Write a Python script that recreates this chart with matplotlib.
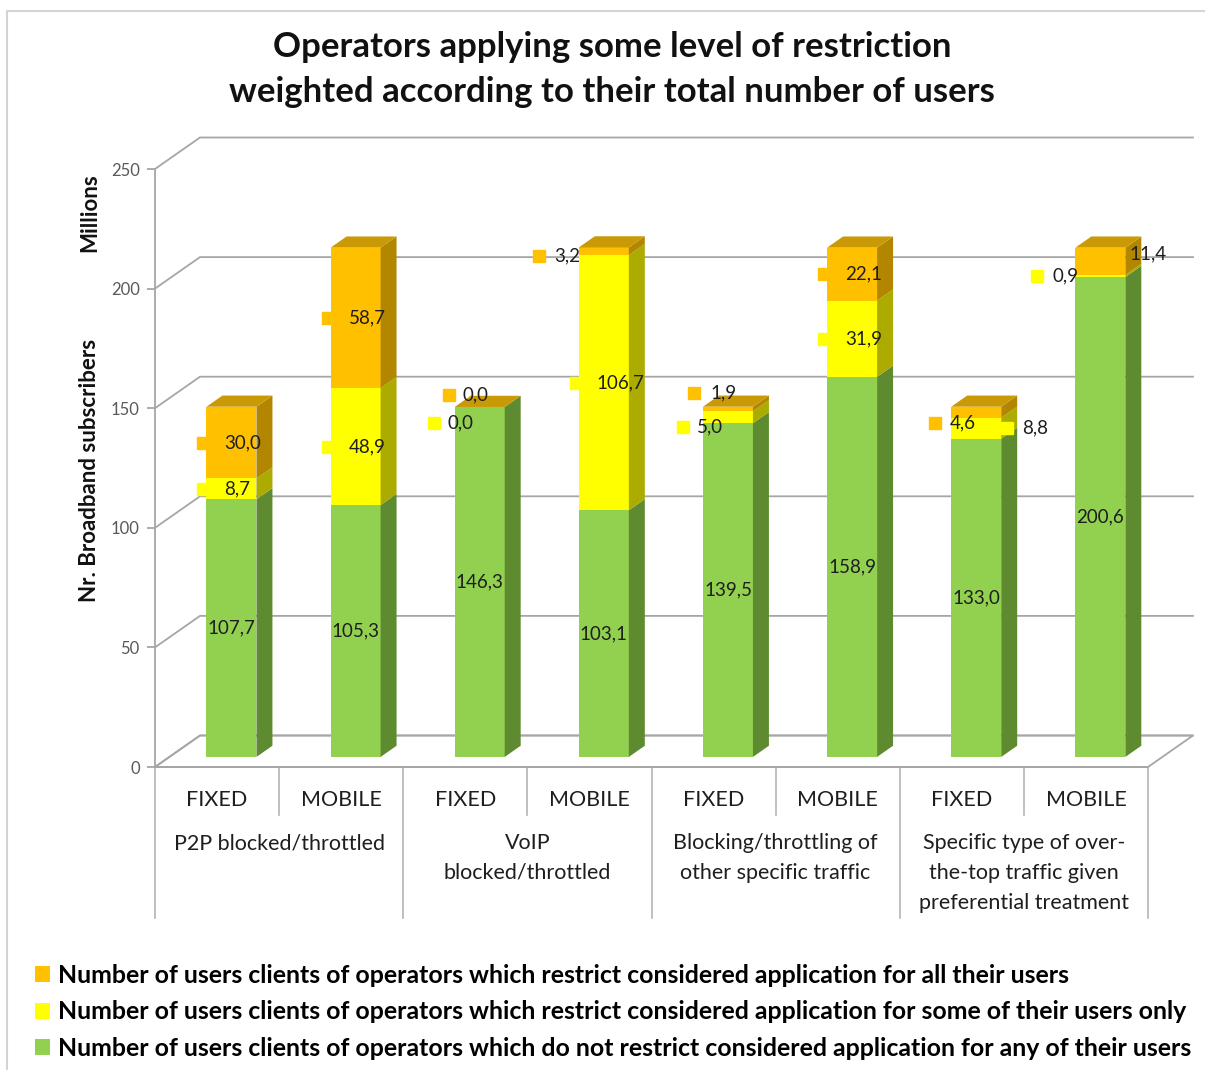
import numpy as np
import matplotlib
matplotlib.use("Agg")
import matplotlib.pyplot as plt
import matplotlib.transforms as mtransforms
from matplotlib.patches import Polygon, Rectangle, Patch

plt.rcParams["font.family"] = ["Lato", "DejaVu Sans"]

# ---- data (millions of broadband subscribers) ----
categories = ["FIXED", "MOBILE", "FIXED", "MOBILE", "FIXED", "MOBILE", "FIXED", "MOBILE"]
groups = [
    "P2P blocked/throttled",
    "VoIP\nblocked/throttled",
    "Blocking/throttling of\nother specific traffic",
    "Specific type of over-\nthe-top traffic given\npreferential treatment",
]
no_restriction = [107.7, 105.3, 146.3, 103.1, 139.5, 158.9, 133.0, 200.6]
some_users = [8.7, 48.9, 0.0, 106.7, 5.0, 31.9, 8.8, 0.9]
all_users = [30.0, 58.7, 0.0, 3.2, 1.9, 22.1, 4.6, 11.4]
series_names = [
    "Number of users clients of operators which do not restrict considered application for any of their users",
    "Number of users clients of operators which restrict considered application for some of their users only",
    "Number of users clients of operators which restrict considered application for all their users",
]
y_ticks = [0, 50, 100, 150, 200, 250]

# ---- styling ----
front_colors = ["#92D050", "#FFFF00", "#FFC000"]
side_colors = ["#5E8B30", "#ABAB00", "#B38600"]
top_color = "#C99A06"
grid_color = "#A6A6A6"
label_color = "#1E1E1E"

W, H = 1205, 1070
fig = plt.figure(figsize=(W / 100, H / 100), dpi=100)
fig.patch.set_facecolor("white")

# front plane of the 3-D box, in figure pixels
fx0, fx1, fy0, fy1 = 155, 1148, 767, 169
ax = fig.add_axes([fx0 / W, 1 - fy0 / H, (fx1 - fx0) / W, (fy0 - fy1) / H])
n = len(categories)
ymax = y_ticks[-1]
ax.set_xlim(0, n)
ax.set_ylim(0, ymax)
ax.patch.set_visible(False)

px_x = (fx1 - fx0) / n
px_y = (fy0 - fy1) / ymax
depth_x = 45 / px_x          # wall depth in data units
depth_y = 31.5 / px_y
front = 0.32                 # where the bar front face sits in the depth
thick = 0.355                # bar depth as a fraction of the wall depth
bar_w = 50 / px_x
dbx, dby = thick * depth_x, thick * depth_y

# floor
ax.add_patch(Polygon([(0, 0), (n, 0), (n + depth_x, depth_y), (depth_x, depth_y)],
                     closed=True, facecolor="white", edgecolor=grid_color,
                     linewidth=1.3, clip_on=False, zorder=0))
# back wall gridlines with the left wall diagonals
for v in y_ticks:
    ax.plot([0, depth_x, n + depth_x], [v, v + depth_y, v + depth_y],
            color=grid_color, linewidth=1.3, clip_on=False, zorder=1)

# axes frame
for s in ["top", "right"]:
    ax.spines[s].set_visible(False)
for s in ["left", "bottom"]:
    ax.spines[s].set_color(grid_color)
    ax.spines[s].set_linewidth(1.3)
ax.set_xticks([])
ax.set_yticks(y_ticks)
ax.tick_params(axis="y", direction="out", length=6, width=1.3, color=grid_color,
               pad=5, labelsize=12, labelcolor="#595959")

# stacked 3-D bars
xc = np.arange(n) + 0.5 + front * depth_x
bottom = np.full(n, front * depth_y)
stack = [no_restriction, some_users, all_users]
for vals, fc, sc, name in zip(stack, front_colors, side_colors, series_names):
    vals = np.asarray(vals, dtype=float)
    ax.bar(xc, vals, width=bar_w, bottom=bottom, color=fc, linewidth=0,
           zorder=3, label=name)
    for xi, b, h in zip(xc, bottom, vals):
        if h > 0:
            xr = xi + bar_w / 2
            ax.add_patch(Polygon([(xr, b), (xr, b + h), (xr + dbx, b + h + dby), (xr + dbx, b + dby)],
                                 closed=True, facecolor=sc, edgecolor="none", zorder=3))
    bottom = bottom + vals
for xi, t in zip(xc, bottom):
    xl, xr = xi - bar_w / 2, xi + bar_w / 2
    ax.add_patch(Polygon([(xl, t), (xr, t), (xr + dbx, t + dby), (xl + dbx, t + dby)],
                         closed=True, facecolor=top_color, edgecolor="none", zorder=3))

# data labels: (bar, series) -> (key dx, text left dx, dy) in pixels
label_moves = {
    (2, 1): (-46, -32, -16),
    (2, 2): (-31, -17, 12),
    (3, 2): (-65, -50, -5),
    (4, 1): (-45, -31, -10),
    (4, 2): (-34, -18, 16),
    (6, 2): (-41, -26, -11),
    (6, 1): (31, 46, 0),
    (7, 1): (-63, -48, 0),
    (7, 2): (14, 29, 7),
}
lab_size = 13.5
bottom = np.full(n, front * depth_y)
for si, (vals, fc) in enumerate(zip(stack, front_colors)):
    for i, v in enumerate(vals):
        yc = bottom[i] + v / 2
        txt = f"{v:.1f}".replace(".", ",")
        if si == 0:
            ax.annotate(txt, (xc[i], yc), ha="center", va="center", fontsize=lab_size,
                        color=label_color, zorder=8)
            continue
        kx, tx, dy = label_moves.get((i, si), (-28, -7, 0))
        tr = mtransforms.offset_copy(ax.transData, fig=fig, x=kx, y=dy, units="dots")
        ax.plot([xc[i]], [yc], marker="s", markersize=8, color=fc, linestyle="none",
                transform=tr, clip_on=False, zorder=7)
        ax.annotate(txt, (xc[i], yc), xytext=(tx, dy), textcoords="offset pixels",
                    ha="left", va="center", fontsize=lab_size, color=label_color, zorder=8)
    bottom = bottom + np.asarray(vals)

# category axis: separators and labels under the floor
short_drop = -(815 - fy0) / px_y
long_drop = -(918 - fy0) / px_y
for k in range(n + 1):
    ax.plot([k, k], [0, long_drop if k % 2 == 0 else short_drop],
            color="#B4B4B4", linewidth=1.2, clip_on=False, zorder=1)
for i, c in enumerate(categories):
    ax.text(i + 0.5, -(800 - fy0) / px_y, c, ha="center", va="center", fontsize=15.5,
            color="#1E1E1E")
for g, name in enumerate(groups):
    ax.text(2 * g + 1, -(833 - fy0) / px_y, name, ha="center", va="top", fontsize=15.5,
            color="#1E1E1E", linespacing=1.62)

# axis titles
fig.text(90 / W, 1 - 470 / H, "Nr. Broadband subscribers", rotation=90, ha="center",
         va="center", fontsize=16, fontweight="bold", color="#111111")
fig.text(90 / W, 1 - 213 / H, "Millions", rotation=90, ha="center", va="center",
         fontsize=16, fontweight="bold", color="#111111")

# chart title
fig.text(612 / W, 1 - 47 / H, "Operators applying some level of restriction",
         ha="center", va="center", fontsize=25, fontweight="bold", color="#111111")
fig.text(612 / W, 1 - 92 / H, "weighted according to their total number of users",
         ha="center", va="center", fontsize=25, fontweight="bold", color="#111111")

# legend (top series first)
handles = [Patch(facecolor=c, edgecolor="none") for c in front_colors[::-1]]
fig.legend(handles, series_names[::-1], loc="upper left",
           bbox_to_anchor=(35 / W, 1 - 964 / H), frameon=False,
           prop={"weight": "bold", "size": 17.9}, handlelength=0.6, handleheight=0.6,
           handletextpad=0.32, labelspacing=0.54, borderpad=0, borderaxespad=0)

# outer chart border
fig.patches.append(Rectangle((7 / W, -0.05), 1.2, 1.05 - 11 / H, fill=False,
                             edgecolor="#D4D4D4", linewidth=1.5,
                             transform=fig.transFigure, figure=fig))

fig.savefig("out.png", dpi=100, facecolor="white")
